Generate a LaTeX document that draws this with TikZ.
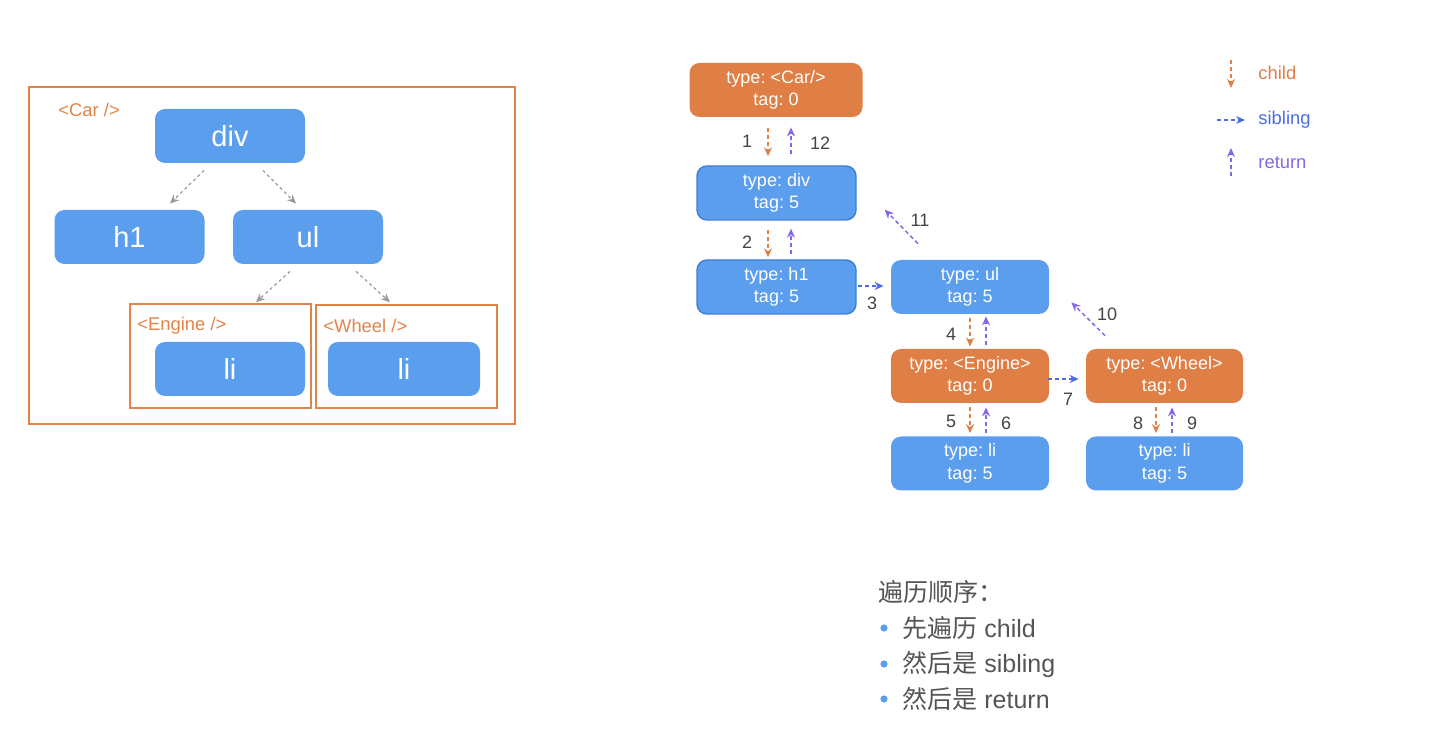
\documentclass[tikz,border=0pt]{standalone}
\usepackage{fontspec}
\setmainfont{Liberation Sans}
\newfontfamily\cjk{Noto Sans CJK SC}
\usetikzlibrary{arrows.meta,calc}
\definecolor{nblue}{HTML}{5C9EEE}
\definecolor{nbord}{HTML}{3F7DD6}
\definecolor{norange}{HTML}{E07F45}
\definecolor{bframe}{HTML}{E0844A}
\definecolor{sibc}{HTML}{4A6CE6}
\definecolor{retc}{HTML}{8566E6}
\definecolor{grc}{HTML}{999999}
\definecolor{txtc}{HTML}{444444}
\definecolor{bottc}{HTML}{555555}
\frenchspacing
\begin{document}
\begin{tikzpicture}[x=0.5pt,y=-0.5pt,
  bignode/.style={fill=nblue, rounded corners=5pt, minimum width=75pt, minimum height=27pt, text=white, font=\fontsize{14.5}{16}\selectfont, inner sep=0pt},
  frame/.style={draw=bframe, line width=0.8pt, inner sep=0pt},
  ftag/.style={text=bframe, font=\fontsize{9.2}{11}\selectfont, anchor=west, inner sep=0pt},
  gdash/.style={draw=grc, line width=0.6pt, dash pattern=on 1.5pt off 1.5pt, -{Stealth[length=4.5pt,width=4pt]}},
  rnode/.style={rounded corners=5pt, minimum width=79.5pt, minimum height=27pt, text=white, align=center, font=\fontsize{9}{11.2}\selectfont, inner sep=0pt},
  bn/.style={rnode, fill=nblue},
  bnb/.style={rnode, fill=nblue, draw=nbord, line width=0.7pt},
  on/.style={rnode, fill=norange},
  childarr/.style={draw=norange, line width=0.75pt, dash pattern=on 2pt off 1.5pt, -{Stealth[length=4.5pt,width=4pt]}},
  sibarr/.style={draw=sibc, line width=0.75pt, dash pattern=on 2pt off 1.5pt, -{Stealth[length=4.5pt,width=4pt]}},
  retarr/.style={draw=retc, line width=0.75pt, dash pattern=on 2pt off 1.5pt, -{Stealth[length=4.5pt,width=4pt]}},
  num/.style={text=txtc, font=\fontsize{9}{11}\selectfont, inner sep=0pt},
  legtext/.style={font=\fontsize{9.2}{11}\selectfont, anchor=west, inner sep=0pt},
  bott/.style={text=bottc, font=\fontsize{12.5}{15}\selectfont, anchor=west, inner sep=0pt},
  bullet/.style={circle, fill=nblue, minimum size=3.6pt, inner sep=0pt}
]
\useasboundingbox (0,0) rectangle (1440,742);

% ---------- left tree ----------
\node[frame, minimum width=243pt, minimum height=168.5pt] (outer) at (272,255.5) {};
\node[ftag] (cartag) at (58,110) {<Car />};
\node[frame, minimum width=90.5pt, minimum height=52pt] (engf) at (220.5,356) {};
\node[frame, minimum width=90.5pt, minimum height=51.5pt] (whlf) at (406.5,356.5) {};
\node[ftag] (engtag) at (137,326) {<Engine />};
\node[ftag] (whltag) at (323,326) {<Wheel />};

\node[bignode] (Ldiv) at (230,136) {div};
\node[bignode] (Lh1) at (129.5,237) {h1};
\node[bignode] (Lul) at (308,237) {ul};
\node[bignode] (Lli1) at (230,369) {li};
\node[bignode, minimum width=76pt] (Lli2) at (404,369) {li};

\draw[gdash] ($(Ldiv.south)+(-26,7)$) -- ($(Lh1.north)+(40.5,-6)$);
\draw[gdash] ($(Ldiv.south)+(33,7)$) -- ($(Lul.north)+(-12,-6)$);
\draw[gdash] ($(Lul.south)+(-18,7)$) -- ($(engf.north)+(35.5,-1)$);
\draw[gdash] ($(Lul.south)+(48,7)$) -- ($(whlf.north)+(-16.5,-2)$);

% ---------- right fiber tree ----------
\node[on, minimum width=86.5pt] (Rcar) at (776,90) {type: <Car/>\\tag: 0};
\node[bnb] (Rdiv) at (776.5,193) {type: div\\tag: 5};
\node[bnb] (Rh1) at (776.5,287) {type: h1\\tag: 5};
\node[bn, minimum width=79pt] (Rul) at (970,287) {type: ul\\tag: 5};
\node[on, minimum width=79pt] (Reng) at (970,376) {type: <Engine>\\tag: 0};
\node[on, minimum width=78.5pt] (Rwhl) at (1164.5,376) {type: <Wheel>\\tag: 0};
\node[bn, minimum width=79pt] (Rli1) at (970,463.5) {type: li\\tag: 5};
\node[bn, minimum width=78.5pt] (Rli2) at (1164.5,463.5) {type: li\\tag: 5};

% car <-> div
\draw[childarr] ($(Rcar.south)+(-8,11)$) -- ($(Rdiv.north)+(-8.5,-9)$);
\draw[retarr] ($(Rdiv.north)+(14.5,-11)$) -- ($(Rcar.south)+(15,10)$);
\node[num] (n1) at (747,141) {1};
\node[num] (n12) at (820,143) {12};
% div <-> h1
\draw[childarr] ($(Rdiv.south)+(-8.5,9)$) -- ($(Rh1.north)+(-8.5,-2)$);
\draw[retarr] ($(Rh1.north)+(14.5,-5)$) -- ($(Rdiv.south)+(14.5,8)$);
\node[num] (n2) at (747,242) {2};
% h1 -> ul
\draw[sibarr] ($(Rh1.east)+(1,-1)$) -- ($(Rul.west)+(-7,-1)$);
\node[num] (n3) at (872,303) {3};
% ul -> div return
\draw[retarr] ($(Rul.north)+(-52,-16)$) -- ($(Rdiv.south east)+(28,-11)$);
\node[num] (n11) at (920,220) {11};
% ul <-> engine
\draw[childarr] ($(Rul.south)+(0,4)$) -- ($(Reng.north)+(0,-2)$);
\draw[retarr] ($(Reng.north)+(16,-4)$) -- ($(Rul.south)+(16,2)$);
\node[num] (n4) at (951,334) {4};
% engine -> wheel
\draw[sibarr] ($(Reng.east)+(-1,3)$) -- ($(Rwhl.west)+(-7,3)$);
\node[num] (n7) at (1068,399) {7};
% wheel -> ul return
\draw[retarr] ($(Rwhl.north)+(-59.5,-13)$) -- ($(Rul.south east)+(22,-12)$);
\node[num] (n10) at (1107,314) {10};
% engine <-> li
\draw[childarr] ($(Reng.south)+(0,4)$) -- ($(Rli1.north)+(0,-3)$);
\draw[retarr] ($(Rli1.north)+(16,-3)$) -- ($(Reng.south)+(16,4)$);
\node[num] (n5) at (951,421) {5};
\node[num] (n6) at (1006,423) {6};
% wheel <-> li
\draw[childarr] ($(Rwhl.south)+(-8.5,4)$) -- ($(Rli2.north)+(-8.5,-3)$);
\draw[retarr] ($(Rli2.north)+(7.5,-3)$) -- ($(Rwhl.south)+(7.5,4)$);
\node[num] (n8) at (1138,423) {8};
\node[num] (n9) at (1192,423) {9};

% ---------- legend ----------
\coordinate (lc1) at (1231,60);
\coordinate (lc2) at (1231,88);
\coordinate (ls1) at (1217,120);
\coordinate (ls2) at (1245,120);
\coordinate (lr1) at (1231,176);
\coordinate (lr2) at (1231,148);
\draw[childarr] (lc1) -- (lc2);
\draw[sibarr] (ls1) -- (ls2);
\draw[retarr] (lr1) -- (lr2);
\node[legtext, text=norange] (lct) at (1258,73) {child};
\node[legtext, text=sibc] (lst) at (1258,120) {sibling};
\node[legtext, text=retc] (lrt) at (1258,163) {return};

% ---------- bottom text ----------
\node[bott] (head) at (878,592) {{\cjk 遍历顺序：}};
\node[bullet] (b1) at (884,628) {};
\node[bullet] (b2) at (884,664) {};
\node[bullet] (b3) at (884,699) {};
\node[bott] (t1) at (902,628) {{\cjk 先遍历} child};
\node[bott] (t2) at (902,664) {{\cjk 然后是} sibling};
\node[bott] (t3) at (902,699) {{\cjk 然后是} return};
\end{tikzpicture}
\end{document}
